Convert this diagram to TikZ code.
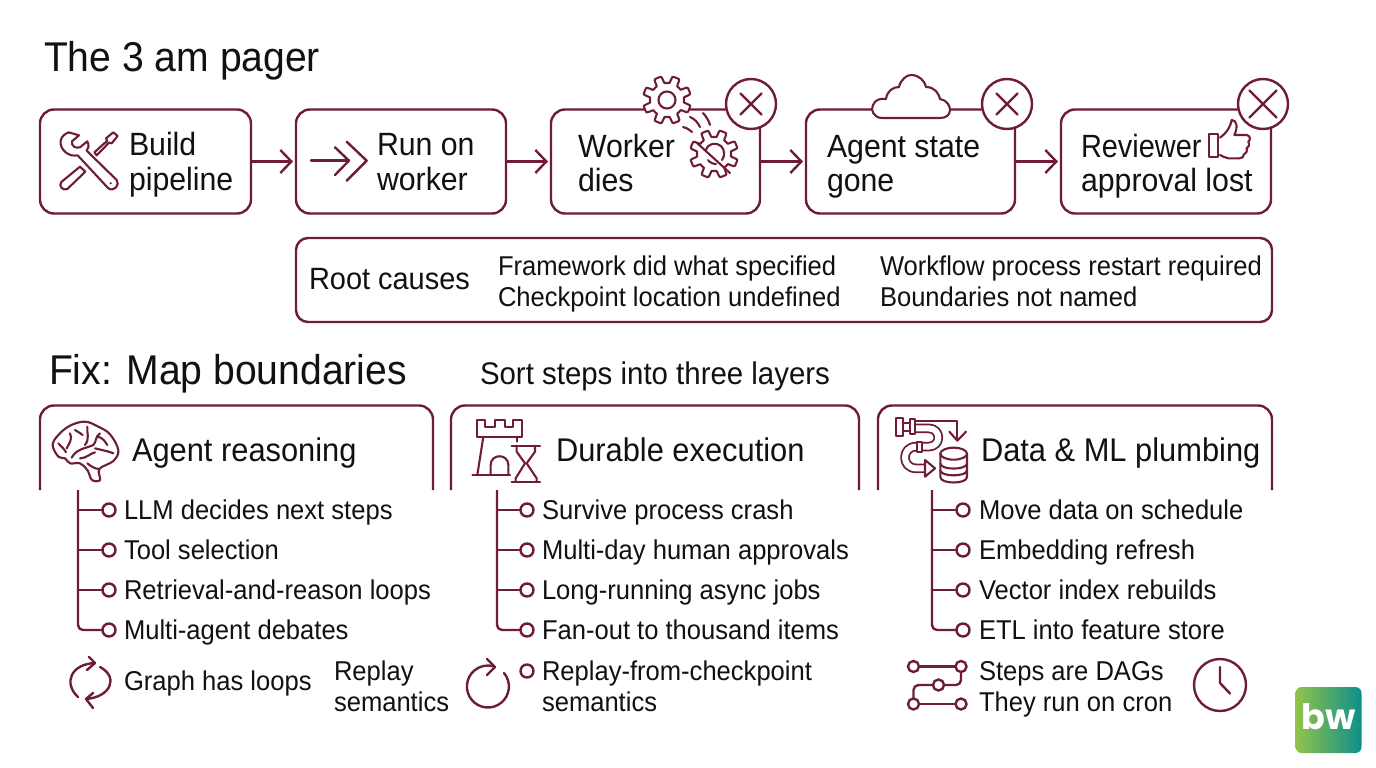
\documentclass[tikz,border=0pt]{standalone}
\usepackage{fontspec}
\setmainfont[FakeStretch=0.94]{Liberation Sans}
\newfontfamily\logofont{Poppins}
\usetikzlibrary{arrows.meta}
\definecolor{wine}{HTML}{6E1B3C}
\definecolor{ink}{HTML}{111111}
\definecolor{logoL}{HTML}{92C24A}
\definecolor{logoR}{HTML}{0E8F8C}
\tikzset{
  ln/.style={draw=wine,line width=2.4pt,line cap=round,line join=round},
  thin ln/.style={draw=wine,line width=2.1pt,line cap=round,line join=round},
  stepbox/.style={draw=wine,line width=2.4pt,rounded corners=14pt,outer sep=0pt,inner sep=0pt,fill=white},
  flow/.style={ln,-{Straight Barb[length=11pt,width=23pt,line width=2.4pt]},shorten >=3pt},
  dotn/.style={circle,draw=wine,line width=2.4pt,minimum size=13pt,inner sep=0pt,outer sep=0pt,fill=white},
  mark x/.style={circle,draw=wine,line width=2.4pt,minimum size=50pt,inner sep=0pt,outer sep=0pt,fill=white},
  tx/.style={anchor=base west,inner sep=0pt,outer sep=0pt,text=ink},
  title/.style={tx,font=\fontsize{41.6}{41.6}\selectfont},
  boxt/.style={tx,font=\fontsize{32.2}{32.2}\selectfont},
  head/.style={tx,font=\fontsize{32.8}{32.8}\selectfont},
  item/.style={tx,font=\fontsize{27.2}{27.2}\selectfont},
  sub/.style={tx,font=\fontsize{31.3}{31.3}\selectfont},
  zc/.style 2 args={shift={(#1pt,-#2pt)},x=.33333pt,y=-.33333pt},
}
\newcommand{\gearpath}[3]{plot[domain=0:360,samples=193] ({#1+(#3+3.5*max(-1,min(1,3*sin(8*\x))))*cos(\x+11)},{#2+(#3+3.5*max(-1,min(1,3*sin(8*\x))))*sin(\x+11)})}
\begin{document}
\begin{tikzpicture}[x=1pt,y=-1pt]
\useasboundingbox (0,0) rectangle (1376,768);
\fill[white] (0,0) rectangle (1376,768);

\node[title] (t1) at (44,71) {The 3 am pager};

% step boxes
\node[stepbox,minimum width=211pt,minimum height=104pt] (b1) at (145.5,161.5) {};
\node[stepbox,minimum width=210pt,minimum height=104pt] (b2) at (401,161.5) {};
\node[stepbox,minimum width=209pt,minimum height=104pt] (b3) at (655.5,161.5) {};
\node[stepbox,minimum width=209pt,minimum height=104pt] (b4) at (910.5,161.5) {};
\node[stepbox,minimum width=210pt,minimum height=104pt] (b5) at (1166,161.5) {};
\draw[flow] (b1) -- (b2);
\draw[flow] (b2) -- (b3);
\draw[flow] (b3) -- (b4);
\draw[flow] (b4) -- (b5);

\node[boxt] (l1a) at (129,155) {Build};
\node[boxt] (l1b) at (129,190) {pipeline};
\node[boxt] (l2a) at (377,155) {Run on};
\node[boxt] (l2b) at (377,190) {worker};
\node[boxt] (l3a) at (578,157) {Worker};
\node[boxt] (l3b) at (578,191) {dies};
\node[boxt] (l4a) at (827,157) {Agent state};
\node[boxt] (l4b) at (827,191) {gone};
\node[boxt,transform shape,xscale=.955] (l5a) at (1081,157) {Reviewer};
\node[boxt] (l5b) at (1081,191) {approval lost};

% tools icon
\begin{scope}[zc={30}{70}]
\draw[thin ln] (116,187) -- (147,196) -- (126,214) .. controls (124,228) and (135,236) .. (150,232) -- (172,214) .. controls (178,226) and (176,236) .. (170,242) -- (260,330) .. controls (272,345) and (250,368) .. (234,354) -- (143,256) .. controls (118,262) and (88,240) .. (92,212) .. controls (94,200) and (104,192) .. (116,187) -- cycle;
\fill[wine] (242,340) circle[radius=3.5];
\draw[thin ln] (150,290) -- (166,305) -- (112,357) .. controls (100,364) and (84,348) .. (94,336) -- cycle;
\draw[thin ln] (193,247) -- (232,212) -- (228,205) -- (250,187) -- (263,198) -- (245,220) -- (237,218) -- (200,256) -- cycle;
\end{scope}

% double chevron
\begin{scope}[zc={30}{70}]
\draw[ln] (843,272) -- (955,272);
\draw[ln] (915,232) -- (957,272) -- (915,315);
\draw[ln] (950,215) -- (1010,272) -- (950,332);
\end{scope}

% gears
\draw[thin ln,fill=white] \gearpath{667}{100}{20.5} -- cycle;
\draw[thin ln] (667,100) circle[radius=8.5pt];
\draw[thin ln,fill=white] \gearpath{714}{154}{20.5} -- cycle;
\draw[thin ln] (706,150) .. controls (708,143) and (716,142) .. (721,146) .. controls (725,150) and (725,156) .. (722,160);
\draw[thin ln] (708,160) .. controls (710,163) and (714,164) .. (716,164);
\draw[thin ln] (697,143) -- (730,173);
\draw[thin ln] (683,127) .. controls (687,128) and (690,130) .. (692,132);
\draw[thin ln] (690,117) .. controls (695,119) and (698,123) .. (700,127);
\draw[thin ln] (703,113) .. controls (706,116) and (709,121) .. (710,125);

% cloud
\draw[thin ln,fill=white] (882,118) .. controls (874,118) and (870,110) .. (873,105) .. controls (875,100) and (880,98) .. (886,99) .. controls (887,91) and (893,87) .. (899,87) .. controls (901,79) and (907,75) .. (911,75) .. controls (919,75) and (925,81) .. (926,87) .. controls (935,87) and (939,94) .. (940,99) .. controls (947,100) and (950,106) .. (950,110) .. controls (950,115) and (946,118) .. (940,118) -- cycle;

% thumb
\begin{scope}[zc={1040}{65}]
\draw[thin ln] (508,208) rectangle (535,277);
\draw[thin ln] (540,218) .. controls (558,205) and (570,190) .. (575,165) .. controls (590,165) and (595,185) .. (583,210) -- (620,210) .. controls (632,212) and (632,226) .. (625,230) .. controls (630,240) and (625,248) .. (620,250) .. controls (622,260) and (618,266) .. (612,268) .. controls (612,276) and (605,280) .. (598,280) -- (565,280) .. controls (555,280) and (548,272) .. (540,270);
\end{scope}

% failure marks
\node[mark x] (x3) at (751,104) {};
\node[mark x] (x4) at (1007,104) {};
\node[mark x] (x5) at (1263,104) {};
\foreach \n/\a in {x3/10.5,x4/10.5,x5/13.5}{
  \draw[ln] ([shift={(-\a pt,-\a pt)}]\n.center) -- ([shift={(\a pt,\a pt)}]\n.center);
  \draw[ln] ([shift={(-\a pt,\a pt)}]\n.center) -- ([shift={(\a pt,-\a pt)}]\n.center);
}

% root causes
\node[stepbox,minimum width=976pt,minimum height=84pt,rounded corners=12pt] (root) at (784,280) {};
\node[tx,font=\fontsize{30.8}{30.8}\selectfont] (r0) at (309,289) {Root causes};
\node[item] (r1) at (498,275) {Framework did what specified};
\node[item] (r2) at (498,306) {Checkpoint location undefined};
\node[item] (r3) at (880,275) {Workflow process restart required};
\node[item] (r4) at (880,306) {Boundaries not named};

\node[title] (t2) at (49,384) {Fix: Map boundaries};
\node[sub] (t3) at (480,384) {Sort steps into three layers};

% panels
\draw[ln,line cap=butt,rounded corners=14pt] (40,490) -- (40,405.5) -- (433,405.5) -- (433,490);
\draw[ln,line cap=butt,rounded corners=14pt] (451,490) -- (451,405.5) -- (859,405.5) -- (859,490);
\draw[ln,line cap=butt,rounded corners=14pt] (878,490) -- (878,405.5) -- (1272,405.5) -- (1272,490);
\node[head] (h1) at (132,461) {Agent reasoning};
\node[head] (h2) at (556,461) {Durable execution};
\node[head] (h3) at (981,461) {Data \& ML plumbing};

% brain
\begin{scope}[zc={30}{395}]
\draw[thin ln] plot[smooth cycle,tension=.6] coordinates {(68,150)(85,120)(120,92)(165,80)(205,95)(240,118)(265,165)(250,198)(208,222)(210,255)(186,255)(172,225)(150,205)(120,205)(105,190)(85,185)};
\draw[thin ln] (120,115) .. controls (130,130) and (115,150) .. (110,160);
\draw[thin ln] (135,105) .. controls (145,110) and (150,115) .. (158,120);
\draw[thin ln] (172,95) .. controls (170,115) and (180,130) .. (165,150);
\draw[thin ln] (85,145) .. controls (95,155) and (105,165) .. (108,172);
\draw[thin ln] (125,188) .. controls (140,160) and (170,160) .. (190,150) .. controls (200,140) and (195,125) .. (210,115);
\draw[thin ln] (150,190) .. controls (170,190) and (180,175) .. (195,172);
\draw[thin ln] (205,125) .. controls (220,130) and (225,140) .. (232,150);
\draw[thin ln] (195,160) .. controls (215,165) and (240,170) .. (250,175);
\draw[thin ln] (172,205) .. controls (185,215) and (195,222) .. (208,222);
\end{scope}

% castle and hourglass
\begin{scope}[zc={445}{395}]
\draw[thin ln] (95,75) -- (120,75) -- (120,95) -- (150,95) -- (150,75) -- (180,75) -- (180,95) -- (205,95) -- (205,75) -- (232,75) -- (232,125) -- (95,125) -- cycle;
\draw[thin ln] (115,125) -- (97,240);
\draw[thin ln] (215,125) -- (215,140);
\draw[thin ln] (82,240) -- (195,240);
\draw[thin ln] (137,240) -- (137,210) .. controls (137,175) and (190,175) .. (190,210) -- (190,240);
\draw[thin ln] (200,152) -- (285,152);
\draw[thin ln] (200,260) -- (285,260);
\draw[thin ln] (215,152) -- (215,170) -- (240,205) -- (212,250) -- (212,260);
\draw[thin ln] (270,152) -- (270,170) -- (245,205) -- (275,250) -- (275,260);
\end{scope}

% pipes and database
\begin{scope}[zc={870}{395}]
\draw[draw=wine,line width=1.8pt,double=white,double distance=6pt,line join=round] (128,100) -- (175,100) .. controls (215,100) and (215,155) .. (175,155) -- (138,155) .. controls (94,155) and (94,220) .. (138,220) -- (165,220);
\draw[thin ln,fill=white] (165,195) -- (195,220) -- (165,245) -- cycle;
\draw[thin ln,fill=white] (77,70) rectangle (98,122);
\draw[thin ln,fill=white] (120,73) rectangle (135,118);
\draw[thin ln] (98,85) -- (120,85);
\draw[thin ln] (98,108) -- (120,108);
\draw[thin ln,fill=white] (142,140) rectangle (155,172);
\draw[thin ln] (135,78) -- (262,78) -- (262,135);
\draw[thin ln] (238,110) -- (262,137) -- (288,110);
\draw[thin ln,fill=white] (211,176) -- (211,246) .. controls (211,268) and (291,268) .. (291,246) -- (291,176);
\draw[thin ln,fill=white] (251,176) ellipse[x radius=40,y radius=18];
\draw[thin ln] (211,205) .. controls (211,226) and (291,226) .. (291,205);
\draw[thin ln] (211,226) .. controls (211,246) and (291,246) .. (291,226);
\end{scope}

% lists
\foreach \p/\sx/\dx/\tx in {a/78/109/124,b/497/527/542,c/932/963/979}{
  \coordinate (s\p) at (\sx,490);
  \node[dotn] (d\p1) at (\dx,510) {};
  \node[dotn] (d\p2) at (\dx,550) {};
  \node[dotn] (d\p3) at (\dx,590) {};
  \node[dotn] (d\p4) at (\dx,630) {};
  \draw[ln,line cap=butt] (s\p |- d\p1) -- (d\p1);
  \draw[ln,line cap=butt] (s\p |- d\p2) -- (d\p2);
  \draw[ln,line cap=butt] (s\p |- d\p3) -- (d\p3);
  \draw[ln,line cap=butt,rounded corners=5pt] (s\p) |- (d\p4);
}
\node[item] (ia1) at (124,519) {LLM decides next steps};
\node[item] (ia2) at (124,559) {Tool selection};
\node[item] (ia3) at (124,599) {Retrieval-and-reason loops};
\node[item] (ia4) at (124,639) {Multi-agent debates};
\node[item] (ib1) at (542,519) {Survive process crash};
\node[item] (ib2) at (542,559) {Multi-day human approvals};
\node[item] (ib3) at (542,599) {Long-running async jobs};
\node[item] (ib4) at (542,639) {Fan-out to thousand items};
\node[item] (ic1) at (979,519) {Move data on schedule};
\node[item] (ic2) at (979,559) {Embedding refresh};
\node[item] (ic3) at (979,599) {Vector index rebuilds};
\node[item] (ic4) at (979,639) {ETL into feature store};

% bottom row
\node[item] (f1) at (124,690) {Graph has loops};
\node[item] (f2) at (334,680) {Replay};
\node[item] (f3) at (334,711) {semantics};
\node[dotn] (f4) at (527,671) {};
\node[item] (f5) at (542,680) {Replay-from-checkpoint};
\node[item] (f6) at (542,711) {semantics};
\node[item] (f7) at (979,680) {Steps are DAGs};
\node[item] (f8) at (979,711) {They run on cron};

% loop icon
\draw[ln] (78,697) .. controls (63,683) and (71,664) .. (95,663);
\draw[ln] (89,657) -- (95,663) -- (87,670);
\draw[ln] (100,667) .. controls (119,677) and (111,697) .. (86,699);
\draw[ln] (93,693) -- (86,699) -- (93,708);

% replay icon
\draw[ln] (504,673) arc[start angle=40,end angle=-285,radius=21pt];
\draw[ln] (487,659) -- (495,667) -- (487,675);

% dag icon
\node[dotn,minimum size=11pt] (g1) at (913.5,666.5) {};
\node[dotn,minimum size=11pt] (g2) at (961,666.5) {};
\node[dotn,minimum size=11pt] (g3) at (938.5,685) {};
\node[dotn,minimum size=11pt] (g4) at (913.5,704) {};
\node[dotn,minimum size=11pt] (g5) at (961,704) {};
\draw[ln] (g1) -- (g2);
\draw[ln] (g4) -- (g5);
\draw[ln,rounded corners=5pt] (g2) |- (g3);
\draw[ln,rounded corners=5pt] (g3) -| (g4);

% clock
\node[circle,draw=wine,line width=2.4pt,minimum size=52pt,inner sep=0pt] (clk) at (1220,685) {};
\coordinate (clkh) at (1220,667);
\coordinate (clkm) at (1230,693.5);
\draw[ln] (clkh) -- (1220,683) -- (clkm);

% logo
\node[inner sep=0pt,outer sep=0pt,rounded corners=6pt,minimum size=66pt,left color=logoL,right color=logoR] (logo) at (1328.5,720) {};
\node[inner sep=0pt,text=white,font=\logofont\bfseries\fontsize{35}{35}\selectfont] (logot) at (1328.5,717) {bw};
\end{tikzpicture}
\end{document}
